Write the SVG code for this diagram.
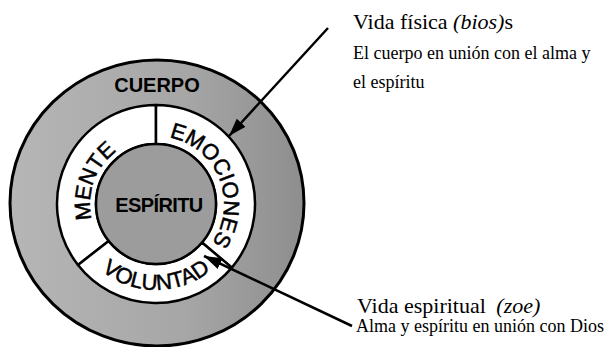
<svg xmlns="http://www.w3.org/2000/svg" width="610" height="347" viewBox="0 0 610 347">
  <style>
    .ring { stroke: #000; stroke-width: 3; }
    .sector { fill: #fff; stroke: #000; stroke-width: 2.5; stroke-linejoin: round; }
    .lbl { font-family: "Liberation Sans", Arial, sans-serif; font-size: 22px; fill: #000; stroke: #000; stroke-width: 0.5; }
    .bold { font-family: "Liberation Sans", Arial, sans-serif; font-weight: bold; fill: #000; }
    .serif { font-family: "Liberation Serif", "Times New Roman", serif; fill: #000; }
    .conn { stroke: #000; stroke-width: 2.5; fill: none; }
  </style>
  <defs>
    <linearGradient id="grayOuter" x1="0" y1="0" x2="1" y2="0">
      <stop offset="0" stop-color="#b6b6b6"/>
      <stop offset="0.6" stop-color="#a6a6a6"/>
      <stop offset="1" stop-color="#8e8e8e"/>
    </linearGradient>
    <marker id="arrow" markerUnits="userSpaceOnUse" markerWidth="20" markerHeight="14" refX="18" refY="7" orient="auto">
      <path d="M0,1 L18,7 L0,13 Z" fill="#000"/>
    </marker>
    <path id="pMente" d="M113.58,254.56 A66,66 0 0 1 156,138"/>
    <path id="pEmo" d="M132.74,140.1 A68,68 0 0 1 183.66,266.12"/>
    <path id="pVol" d="M70,204 A86,86 0 0 0 242,204"/>
  </defs>

  <g id="cuerpo">
    <ellipse cx="157" cy="203" rx="147" ry="143" fill="url(#grayOuter)" class="ring"/>
    <text class="bold" x="157" y="92" font-size="20" text-anchor="middle">CUERPO</text>
  </g>

  <g id="mente">
    <path class="sector" d="M77.99,264.95 A99,99 0 0 1 156,105 L156,144 A60,60 0 0 0 108.72,240.94 Z"/>
    <text class="lbl"><textPath href="#pMente" startOffset="50%" text-anchor="middle">MENTE</textPath></text>
  </g>

  <g id="emociones">
    <path class="sector" d="M156,105 A99,99 0 0 1 231.84,267.64 L201.96,242.57 A60,60 0 0 0 156,144 Z"/>
    <text class="lbl"><textPath href="#pEmo" startOffset="50%" text-anchor="middle">EMOCIONES</textPath></text>
  </g>

  <g id="voluntad">
    <path class="sector" d="M231.84,267.64 A99,99 0 0 1 77.99,264.95 L108.72,240.94 A60,60 0 0 0 201.96,242.57 Z"/>
    <text class="lbl"><textPath href="#pVol" startOffset="50%" text-anchor="middle">VOLUNTAD</textPath></text>
  </g>

  <g id="espiritu">
    <circle cx="156" cy="204" r="60" fill="#9c9c9c" stroke="#000" stroke-width="2.5"/>
    <text class="bold" x="159" y="212" font-size="20" text-anchor="middle" letter-spacing="-0.6">ESPÍRITU</text>
  </g>

  <g id="connectors">
    <line class="conn" x1="328" y1="28" x2="229" y2="136" marker-end="url(#arrow)"/>
    <line class="conn" x1="352" y1="326" x2="204" y2="256" marker-end="url(#arrow)"/>
  </g>

  <g id="vida-fisica">
    <text class="serif" x="353" y="29" font-size="22">Vida física <tspan font-style="italic">(bios)</tspan>s</text>
    <text class="serif" x="353" y="59" font-size="18">El cuerpo en unión con el alma y</text>
    <text class="serif" x="353" y="88" font-size="18">el espíritu</text>
  </g>

  <g id="vida-espiritual">
    <text class="serif" x="357" y="313" font-size="22">Vida espiritual <tspan dx="5" font-style="italic">(zoe)</tspan></text>
    <text class="serif" x="356" y="332" font-size="18">Alma y espíritu en unión con Dios</text>
  </g>
</svg>
